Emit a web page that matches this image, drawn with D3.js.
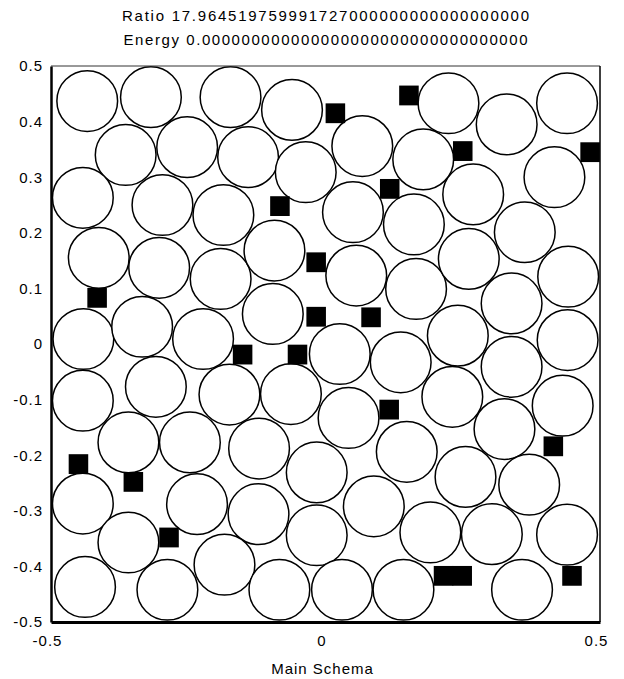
<!DOCTYPE html>
<html>
<head>
<meta charset="utf-8">
<script src="https://cdn.jsdelivr.net/npm/d3@7"></script>
<style>
  body { margin: 0; background: #fff; }
  text { font-family: "Liberation Sans", Arial, sans-serif; fill: #000; }
</style>
</head>
<body>
<div id="chart"></div>
<script>
// title lines
const titleLines = [
  "Ratio 17.964519759991727000000000000000000",
  "Energy 0.000000000000000000000000000000000"
];
const xLabel = "Main Schema";

// ticks
const xTicks = [-0.5, 0, 0.5];
const yTicks = [-0.5, -0.4, -0.3, -0.2, -0.1, 0, 0.1, 0.2, 0.3, 0.4, 0.5];

// circle centres
const circleX = [
  -0.434, -0.318, -0.173, -0.061, -0.364, -0.252, -0.141, -0.036, -0.442, -0.297,
  -0.186, -0.413, -0.303, -0.191, -0.093, -0.096, -0.441, -0.334, -0.223, -0.442,
  -0.309, -0.175, -0.063, -0.359, -0.247, -0.121, -0.016, -0.442, -0.234, -0.122,
  -0.016, -0.359, -0.184, -0.438, -0.288, -0.084, 0.030, 0.224, 0.330, 0.440,
  0.067, 0.178, 0.417, 0.050, 0.161, 0.269, 0.363, 0.056, 0.165, 0.261,
  0.339, 0.442, 0.026, 0.137, 0.241, 0.339, 0.441, 0.042, 0.231, 0.326,
  0.432, 0.148, 0.255, 0.371, 0.088, 0.191, 0.303, 0.440, 0.142, 0.358
];
const circleY = [
  0.437, 0.444, 0.444, 0.421, 0.340, 0.354, 0.336, 0.309, 0.263, 0.250,
  0.232, 0.155, 0.137, 0.117, 0.168, 0.054, 0.009, 0.031, 0.009, -0.102,
  -0.077, -0.091, -0.090, -0.177, -0.177, -0.188, -0.231, -0.287, -0.288, -0.306,
  -0.344, -0.357, -0.397, -0.437, -0.442, -0.442, -0.442, 0.433, 0.395, 0.433,
  0.356, 0.332, 0.300, 0.237, 0.215, 0.269, 0.201, 0.123, 0.099, 0.153,
  0.073, 0.121, -0.018, -0.033, 0.015, -0.041, 0.007, -0.133, -0.095, -0.153,
  -0.111, -0.194, -0.239, -0.253, -0.292, -0.339, -0.342, -0.343, -0.442, -0.442
];

// square centres
const squareX = [
  -0.083, -0.017, -0.416, -0.017, -0.151, -0.051, -0.450, -0.350, -0.285, 0.018,
  0.152, 0.250, 0.482, 0.117, 0.083, 0.116, 0.415, 0.215, 0.249, 0.449
];
const squareY = [
  0.248, 0.147, 0.083, 0.049, -0.019, -0.019, -0.216, -0.248, -0.348, 0.415,
  0.447, 0.347, 0.345, 0.279, 0.048, -0.118, -0.184, -0.417, -0.417, -0.417
];

const circleR = 0.0553;
const squareHalf = 0.0178;

const W = 624, H = 679;
const margin = { top: 66, right: 24, bottom: 57, left: 51 };

const svg = d3.select("#chart")
  .append("svg")
  .attr("width", W)
  .attr("height", H);

svg.append("rect").attr("width", W).attr("height", H).attr("fill", "#fff");

const x = d3.scaleLinear().domain([-0.5, 0.5]).range([margin.left, W - margin.right]);
const y = d3.scaleLinear().domain([-0.5, 0.5]).range([H - margin.bottom, margin.top]);

// clip to plot area
svg.append("clipPath").attr("id", "plotClip")
  .append("rect")
  .attr("x", x(-0.5)).attr("y", y(0.5))
  .attr("width", x(0.5) - x(-0.5)).attr("height", y(-0.5) - y(0.5));

const plot = svg.append("g").attr("clip-path", "url(#plotClip)");

const rPx = x(circleR) - x(0);

plot.selectAll(".ball")
  .data(circleX.map((cx, i) => ({ cx, cy: circleY[i] })))
  .enter()
  .append("circle")
  .attr("class", "ball")
  .attr("cx", d => x(d.cx))
  .attr("cy", d => y(d.cy))
  .attr("r", rPx)
  .attr("fill", "#fff")
  .attr("stroke", "#000")
  .attr("stroke-width", 1.5);

plot.selectAll(".block")
  .data(squareX.map((sx, i) => ({ sx, sy: squareY[i] })))
  .enter()
  .append("rect")
  .attr("class", "block")
  .attr("x", d => x(d.sx - squareHalf))
  .attr("y", d => y(d.sy + squareHalf))
  .attr("width", d => x(d.sx + squareHalf) - x(d.sx - squareHalf))
  .attr("height", d => y(d.sy - squareHalf) - y(d.sy + squareHalf))
  .attr("fill", "#000");

// frame: thin top/right, heavy left/bottom
svg.append("line")
  .attr("x1", x(-0.5)).attr("x2", x(0.5)).attr("y1", y(0.5)).attr("y2", y(0.5))
  .attr("stroke", "#333").attr("stroke-width", 1);
svg.append("line")
  .attr("x1", x(0.5)).attr("x2", x(0.5)).attr("y1", y(0.5)).attr("y2", y(-0.5))
  .attr("stroke", "#000").attr("stroke-width", 1.5);

// axes
const fmt = d => String(+d.toFixed(1));

svg.append("g")
  .attr("transform", `translate(${x(-0.5)},0)`)
  .call(d3.axisLeft(y).tickValues(yTicks).tickFormat(fmt).tickSize(0).tickPadding(8))
  .call(g => g.select(".domain").attr("stroke", "#000").attr("stroke-width", 2.5))
  .call(g => g.selectAll("text")
    .style("font-size", "15px")
    .style("letter-spacing", "1px")
    .attr("fill", "#000"));

svg.append("g")
  .attr("transform", `translate(0,${y(-0.5)})`)
  .call(d3.axisBottom(x).tickValues(xTicks).tickFormat(fmt).tickSize(0).tickPadding(13))
  .call(g => g.select(".domain").attr("stroke", "#000").attr("stroke-width", 3))
  .call(g => g.selectAll("text")
    .attr("dx", -4)
    .style("font-size", "15px")
    .style("letter-spacing", "1px")
    .attr("fill", "#000"));

// x axis title
svg.append("text")
  .attr("x", (x(-0.5) + x(0.5)) / 2 - 3)
  .attr("y", 674)
  .attr("text-anchor", "middle")
  .style("font-size", "15px")
  .style("letter-spacing", "1px")
  .text(xLabel);

// chart title
svg.selectAll(".title")
  .data(titleLines)
  .enter()
  .append("text")
  .attr("class", "title")
  .attr("x", (x(-0.5) + x(0.5)) / 2)
  .attr("y", (d, i) => 21 + i * 24)
  .attr("text-anchor", "middle")
  .attr("textLength", (d, i) => i === 0 ? 407 : 404)
  .attr("lengthAdjust", "spacing")
  .style("font-size", "15px")
  .text(d => d);
</script>
</body>
</html>
